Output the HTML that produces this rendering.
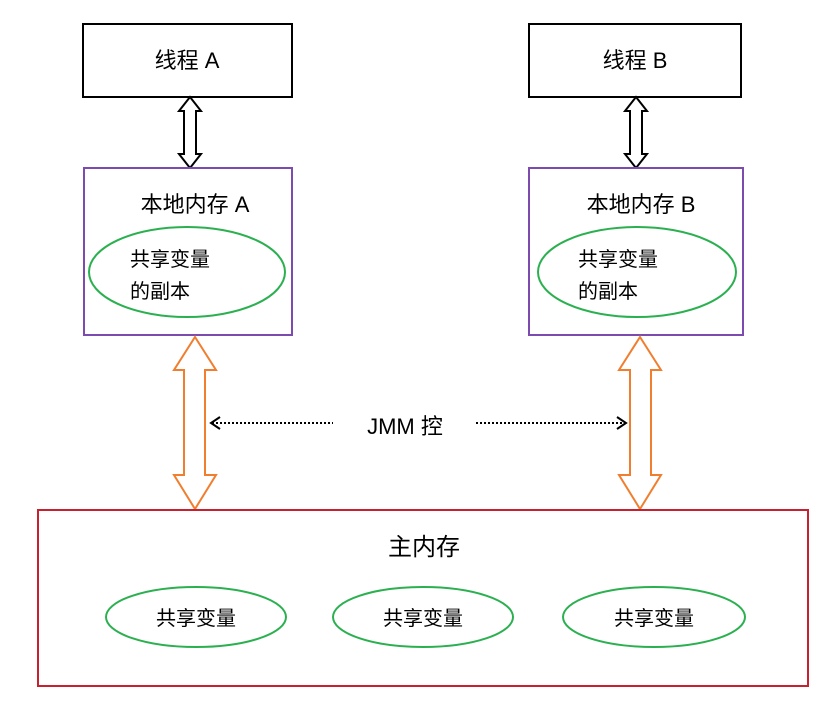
<!DOCTYPE html>
<html><head><meta charset="utf-8"><style>
body{margin:0;background:#fff;}
svg text{font-family:"Liberation Sans","Noto Sans CJK SC",sans-serif;fill:#000;}
</style></head><body>
<svg width="836" height="718" viewBox="0 0 836 718" xmlns="http://www.w3.org/2000/svg">
<!-- thread boxes -->
<rect x="83" y="24" width="209" height="73" fill="#fff" stroke="#000" stroke-width="2"/>
<text x="187" y="68" font-size="22" text-anchor="middle">线程 A</text>
<rect x="529" y="24" width="212" height="73" fill="#fff" stroke="#000" stroke-width="2"/>
<text x="635" y="68" font-size="22" text-anchor="middle">线程 B</text>
<!-- black double arrows -->
<polygon points="190,97 201,111 196,111 196,154 201,154 190,168 179,154 184,154 184,111 179,111" fill="#fff" stroke="#000" stroke-width="2"/>
<polygon points="636,97 647,111 642,111 642,154 647,154 636,168 625,154 630,154 630,111 625,111" fill="#fff" stroke="#000" stroke-width="2"/>
<!-- local memory boxes -->
<rect x="84" y="168" width="208" height="167" fill="#fff" stroke="#7d4bb0" stroke-width="2"/>
<text x="195" y="212" font-size="22" text-anchor="middle">本地内存 A</text>
<ellipse cx="187" cy="272" rx="98" ry="45" fill="none" stroke="#2bb050" stroke-width="2"/>
<text x="130" y="266" font-size="20">共享变量</text>
<text x="130" y="298" font-size="20">的副本</text>
<rect x="529" y="168" width="214" height="167" fill="#fff" stroke="#7d4bb0" stroke-width="2"/>
<text x="641" y="212" font-size="22" text-anchor="middle">本地内存 B</text>
<ellipse cx="637" cy="272" rx="99" ry="45" fill="none" stroke="#2bb050" stroke-width="2"/>
<text x="578" y="266" font-size="20">共享变量</text>
<text x="578" y="298" font-size="20">的副本</text>
<!-- orange arrows -->
<polygon points="195,337 216,370 205,370 205,475 216,475 195,509 174,475 184,475 184,370 174,370" fill="#fff" stroke="#f07e2e" stroke-width="2"/>
<polygon points="640,337 661,370 651,370 651,475 661,475 640,509 619,475 630,475 630,370 619,370" fill="#fff" stroke="#f07e2e" stroke-width="2"/>
<!-- dotted arrows -->
<line x1="212" y1="423" x2="333" y2="423" stroke="#000" stroke-width="2" stroke-dasharray="2,2"/>
<polyline points="220,417 211,423 220,429" fill="none" stroke="#000" stroke-width="2"/>
<line x1="476" y1="423" x2="625" y2="423" stroke="#000" stroke-width="2" stroke-dasharray="2,2"/>
<polyline points="617,417 626,423 617,429" fill="none" stroke="#000" stroke-width="2"/>
<text x="405" y="434" font-size="22" text-anchor="middle">JMM 控</text>
<!-- main memory -->
<rect x="38" y="510" width="770" height="176" fill="none" stroke="#c8202e" stroke-width="2"/>
<text x="424" y="555" font-size="24" text-anchor="middle">主内存</text>
<ellipse cx="196" cy="617" rx="90" ry="30" fill="none" stroke="#2bb050" stroke-width="2"/>
<text x="196" y="625" font-size="20" text-anchor="middle">共享变量</text>
<ellipse cx="423" cy="617" rx="90" ry="30" fill="none" stroke="#2bb050" stroke-width="2"/>
<text x="423" y="625" font-size="20" text-anchor="middle">共享变量</text>
<ellipse cx="654" cy="617" rx="91" ry="30" fill="none" stroke="#2bb050" stroke-width="2"/>
<text x="654" y="625" font-size="20" text-anchor="middle">共享变量</text>
</svg>
</body></html>
